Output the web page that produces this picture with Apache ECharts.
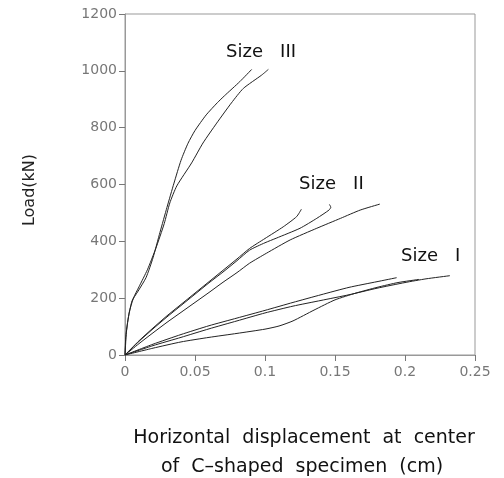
<!DOCTYPE html>
<html>
<head>
<meta charset="utf-8">
<script src="https://cdn.jsdelivr.net/npm/echarts@6/dist/echarts.min.js"></script>
<style>
html,body{margin:0;padding:0;background:#fff;}
#chart{width:504px;height:478px;}
</style>
</head>
<body>
<div id="chart"></div>
<script>
// ---- data (x: displacement cm, y: load kN) ----
var xTicks = ['0', '0.05', '0.1', '0.15', '0.2', '0.25'];
var yTicks = ['0', '200', '400', '600', '800', '1000', '1200'];

var sizeIII_a = [[0,0],[0.0005,60],[0.002,120],[0.005,190],[0.009,222],[0.015,272],[0.02,342],[0.025,432],[0.03,520],[0.035,605],[0.04,685],[0.045,745],[0.05,790],[0.058,845],[0.066,888],[0.071,912],[0.082,962],[0.0905,1005]];
var sizeIII_b = [[0,0],[0.001,80],[0.003,150],[0.006,200],[0.01,240],[0.016,300],[0.022,375],[0.028,462],[0.032,535],[0.037,595],[0.0476,676],[0.0557,746],[0.0655,816],[0.076,887],[0.0845,938],[0.0976,985],[0.1024,1005]];

var sizeII_a = [[0,0],[0.01,50],[0.02,95],[0.03,138],[0.04,178],[0.05,218],[0.06,258],[0.07,298],[0.08,338],[0.089,375],[0.1,410],[0.113,451],[0.1226,487],[0.126,513]];
var sizeII_b = [[0,0],[0.01,48],[0.02,92],[0.03,134],[0.04,174],[0.05,214],[0.06,254],[0.07,292],[0.08,332],[0.089,369],[0.1,395],[0.108,411],[0.125,446],[0.137,481],[0.1457,510],[0.147,520],[0.146,530]];
var sizeII_c = [[0,0],[0.01,40],[0.02,78],[0.03,115],[0.04,150],[0.05,185],[0.06,220],[0.07,256],[0.08,290],[0.089,323],[0.101,358],[0.118,405],[0.137,446],[0.154,481],[0.168,510],[0.182,531]];

var sizeI_a = [[0,0],[0.02,38],[0.04,72],[0.06,103],[0.08,130],[0.1,157],[0.12,185],[0.14,212],[0.16,238],[0.18,258],[0.194,272]];
var sizeI_b = [[0,0],[0.02,33],[0.04,62],[0.06,92],[0.08,120],[0.1,148],[0.12,172],[0.14,192],[0.16,212],[0.18,235],[0.2,255],[0.215,268],[0.232,279]];
var sizeI_c = [[0,0],[0.02,24],[0.04,46],[0.06,62],[0.08,76],[0.1,91],[0.11,102],[0.12,120],[0.135,158],[0.15,194],[0.165,218],[0.18,238],[0.195,255],[0.21,266]];

var curves = [sizeIII_a, sizeIII_b, sizeII_a, sizeII_b, sizeII_c, sizeI_a, sizeI_b, sizeI_c];

var chart = echarts.init(document.getElementById('chart'), null, {renderer: 'canvas'});
var labelFont = 'DejaVu Sans';
var option = {
  animation: false,
  backgroundColor: '#fff',
  grid: {left: 125, right: 29, top: 14, bottom: 123, show: true, borderColor: '#999', borderWidth: 1},
  xAxis: {
    type: 'value', min: 0, max: 0.25, interval: 0.05,
    axisLine: {show: true, lineStyle: {color: '#999', width: 1}},
    axisTick: {show: true, inside: false, length: 6, lineStyle: {color: '#777'}},
    splitLine: {show: false},
    axisLabel: {color: '#777', fontFamily: labelFont, fontSize: 14, margin: 10,
      formatter: function (v) { var i = Math.round(v / 0.05); return xTicks[i]; }}
  },
  yAxis: {
    type: 'value', min: 0, max: 1200, interval: 200,
    axisLine: {show: true, lineStyle: {color: '#999', width: 1}},
    axisTick: {show: true, inside: false, length: 6, lineStyle: {color: '#777'}},
    splitLine: {show: false},
    axisLabel: {color: '#777', fontFamily: labelFont, fontSize: 14, margin: 8,
      formatter: function (v) { var i = Math.round(v / 200); return yTicks[i]; }}
  },
  series: curves.map(function (d) {
    return {type: 'line', data: d, showSymbol: false, symbol: 'none', smooth: 0.2,
      lineStyle: {color: '#222', width: 1}};
  }),
  graphic: [
    {type: 'text', left: 226, top: 43, style: {text: 'Size   III', font: '18px "DejaVu Sans"', fill: '#111'}},
    {type: 'text', left: 299, top: 175, style: {text: 'Size   II', font: '18px "DejaVu Sans"', fill: '#111'}},
    {type: 'text', left: 401, top: 247, style: {text: 'Size   I', font: '18px "DejaVu Sans"', fill: '#111'}},
    {type: 'text', x: 30, y: 190, rotation: Math.PI / 2, style: {text: 'Load(kN)', font: '16px "DejaVu Sans"', fill: '#222', align: 'center', verticalAlign: 'middle'}},
    {type: 'text', x: 304, y: 438, style: {text: 'Horizontal  displacement  at  center', font: '19px "DejaVu Sans"', fill: '#111', align: 'center', verticalAlign: 'middle'}},
    {type: 'text', x: 302, y: 467, style: {text: 'of  C\u2013shaped  specimen  (cm)', font: '19px "DejaVu Sans"', fill: '#111', align: 'center', verticalAlign: 'middle'}}
  ]
};
chart.setOption(option);
</script>
</body>
</html>
